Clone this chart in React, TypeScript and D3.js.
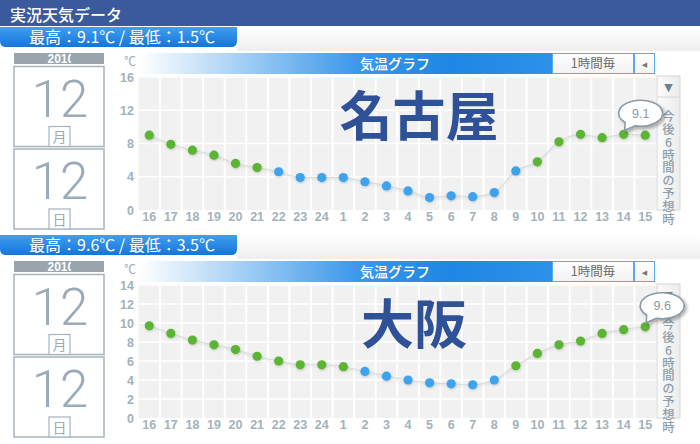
import React from "react";
import * as d3 from "d3";

const HOURS = ["16","17","18","19","20","21","22","23","24","1","2","3","4","5","6","7","8","9","10","11","12","13","14","15"];
const NAGOYA_TEMPS = [9.0,7.9,7.2,6.6,5.6,5.1,4.6,3.9,3.9,3.9,3.4,2.9,2.3,1.5,1.7,1.6,2.1,4.7,5.8,8.2,9.1,8.7,9.1,9.0];
const OSAKA_TEMPS = [9.7,8.9,8.2,7.7,7.2,6.5,6.0,5.6,5.6,5.4,4.9,4.4,4.0,3.7,3.6,3.5,4.0,5.5,6.8,7.7,8.1,8.9,9.3,9.6];
const NAGOYA_TICKS = [0,4,8,12,16];
const OSAKA_TICKS = [0,2,4,6,8,10,12,14];
const SIDE_TEXT = "今後6時間の予想時";

const JP = "'Noto Sans CJK JP', sans-serif";
const NUM = "'Liberation Sans', Arial, sans-serif";
const GRAYTXT = "#9aaab8";

type PanelProps = {
  dy: number; city: string; cityX: number; temps: number[]; ticks: number[];
  hi: string; lo: string; bubbleIdx: number; bubbleText: string; id: string;
};

function Bubble({ px, py, text }: { px: number; py: number; text: string }) {
  const cx = px + 17, cy = py - 21, rx = 22, ry = 13;
  const a1 = (105 * Math.PI) / 180, a2 = (135 * Math.PI) / 180;
  const A = [cx + rx * Math.cos(a1), cy + ry * Math.sin(a1)];
  const B = [cx + rx * Math.cos(a2), cy + ry * Math.sin(a2)];
  const tip = [px + 1, py - 4];
  const d = `M${A[0]},${A[1]} L${tip[0]},${tip[1]} L${B[0]},${B[1]} A${rx},${ry} 0 1 1 ${A[0]},${A[1]} Z`;
  return (
    <g>
      <path d={d} fill="#fff" stroke="#8c9aa6" strokeWidth={1.6} filter="url(#bshadow)" />
      <text x={cx} y={cy + 4.5} textAnchor="middle" fontFamily={NUM} fontSize={12.5} fill="#8a98a5">{text}</text>
    </g>
  );
}

function Panel(p: PanelProps) {
  const { dy } = p;
  const yMax = p.ticks[p.ticks.length - 1];
  const x = d3.scaleBand<string>().domain(HOURS).range([138.5, 656]).padding(0);
  const y = d3.scaleLinear().domain([0, yMax]).range([210 + dy, 77 + dy]);
  const bw = x.bandwidth();
  const cxOf = (h: string) => (x(h) as number) + bw / 2;
  const line = d3.line<number>().x((_, i) => cxOf(HOURS[i])).y((v) => y(v)).curve(d3.curveMonotoneX);
  const tabText = `最高：${p.hi}℃ / 最低：${p.lo}℃`;
  const calBox = (top: number, label: string) => (
    <g>
      <rect x={14} y={top} width={90} height={80} fill="#fff" stroke="#a7b4c0" strokeWidth={1.5} />
      <text x={60} y={top + 50} textAnchor="middle" fontFamily="Roboto, 'Liberation Sans', sans-serif" fontWeight={300} fontSize={51} fill={GRAYTXT}>12</text>
      <rect x={49} y={top + 60} width={21} height={20} fill="#fff" stroke="#a7b4c0" strokeWidth={1.2} />
      <text x={59.5} y={top + 75.5} textAnchor="middle" fontFamily={JP} fontSize={14} fill={GRAYTXT}>{label}</text>
    </g>
  );
  return (
    <g>
      {/* top strip */}
      <rect x={237} y={27 + dy} width={463} height={24} fill="url(#strip)" />
      <path d={`M0,${27 + dy} H237 V${41 + dy} Q237,${47 + dy} 231,${47 + dy} H6 Q0,${47 + dy} 0,${41 + dy} Z`} fill="url(#tab)" />
      <text x={122} y={43 + dy} textAnchor="middle" fontFamily={JP} fontSize={16} fill="#fff">{tabText}</text>

      {/* calendar */}
      <rect x={14} y={53 + dy} width={90} height={11} fill="#9aa5ae" />
      <clipPath id={`yc${p.id}`}><rect x={14} y={53 + dy} width={57} height={11} /></clipPath>
      <g clipPath={`url(#yc${p.id})`}>
        <text x={47.5} y={63 + dy} fontFamily={NUM} fontWeight="bold" fontSize={12} fill="#fff">2010</text>
      </g>
      {calBox(66.5 + dy, "月")}
      {calBox(149 + dy, "日")}

      {/* chart header */}
      <rect x={140} y={53 + dy} width={515} height={21} fill="url(#hdr)" />
      <text x={360} y={68.5 + dy} fontFamily={JP} fontSize={14} fill="#fff" fontWeight={500}>気温グラフ</text>
      <rect x={552.5} y={53.5 + dy} width={81} height={20} fill="url(#wbox)" stroke="#58aaf0" strokeWidth={1} />
      <text x={593} y={68 + dy} textAnchor="middle" fontFamily={JP} fontSize={12.5} fill="#6a6a6a">1時間毎</text>
      <rect x={634.5} y={53.5 + dy} width={20} height={20} fill="url(#wbox)" stroke="#58aaf0" strokeWidth={1} />
      <text x={644.5} y={66.5 + dy} textAnchor="middle" fontFamily="'DejaVu Sans'" fontSize={7} fill="#777">◀</text>
      <text x={130} y={66 + dy} textAnchor="middle" fontFamily={JP} fontSize={12} fill={GRAYTXT}>℃</text>

      {/* plot */}
      <rect x={138.5} y={76 + dy} width={517.5} height={134} fill="#f1f1f1" />
      {p.ticks.slice(1).map((t) => (
        <line key={`h${t}`} x1={138.5} x2={656} y1={y(t)} y2={y(t)} stroke="#fff" strokeWidth={1.5} />
      ))}
      {HOURS.slice(1).map((h) => (
        <line key={`v${h}`} x1={x(h) as number} x2={x(h) as number} y1={76 + dy} y2={210 + dy} stroke="#fff" strokeWidth={2} />
      ))}
      {p.ticks.map((t) => (
        <text key={`t${t}`} x={134} y={y(t) + 4.5} textAnchor="end" fontFamily={NUM} fontWeight="bold" fontSize={12.5} fill="#a3b1bd">{t}</text>
      ))}
      {HOURS.map((h) => (
        <text key={`x${h}`} x={cxOf(h)} y={221 + dy} textAnchor="middle" fontFamily={NUM} fontWeight="bold" fontSize={12.5} fill="#a3b1bd">{h}</text>
      ))}

      {/* city name */}
      <text x={p.cityX} y={136 + dy} textAnchor="middle" fontFamily={JP} fontWeight="bold" fontSize={53} fill="#2f5198">{p.city}</text>

      {/* side panel */}
      <rect x={657} y={76 + dy} width={23} height={134} fill="url(#side)" stroke="#d6d6d6" strokeWidth={1} />
      <line x1={657} x2={680} y1={97 + dy} y2={97 + dy} stroke="#d6d6d6" strokeWidth={1} />
      <text x={668.5} y={91 + dy} textAnchor="middle" fontFamily="'DejaVu Sans'" fontSize={11} fill="#6b7f92">▼</text>
      <text x={668.5} y={110 + dy} fontFamily={JP} fontSize={12.3} fontWeight={500} fill="#8e9dab"
        letterSpacing={0.6}
        style={{ writingMode: "vertical-rl", textOrientation: "upright" } as React.CSSProperties}>{SIDE_TEXT}</text>

      {/* line and dots */}
      <path d={line(p.temps) || ""} fill="none" stroke="#dadada" strokeWidth={1.1} filter="url(#lshadow)" />
      {p.temps.map((v, i) => (
        <circle key={`c${i}`} cx={cxOf(HOURS[i])} cy={y(v)} r={4.6} fill={v >= 5 ? "#5cb531" : "#3ea3ec"} filter="url(#dshadow)" />
      ))}
      <Bubble px={cxOf(HOURS[p.bubbleIdx])} py={y(p.temps[p.bubbleIdx])} text={p.bubbleText} />
    </g>
  );
}

export default function App() {
  return (
    <svg width={700} height={444} style={{ position: "absolute", left: 0, top: 0, background: "#fff" }}>
      <defs>
        <linearGradient id="tab" x1="0" y1="0" x2="0" y2="1">
          <stop offset="0" stopColor="#3f9ff2" />
          <stop offset="1" stopColor="#1475da" />
        </linearGradient>
        <linearGradient id="strip" x1="0" y1="0" x2="0" y2="1">
          <stop offset="0" stopColor="#ffffff" />
          <stop offset="1" stopColor="#eeeeee" />
        </linearGradient>
        <linearGradient id="hdr" x1="0" y1="0" x2="1" y2="0">
          <stop offset="0" stopColor="#ffffff" />
          <stop offset="0.42" stopColor="#3d98ea" />
          <stop offset="0.6" stopColor="#1f86e4" />
          <stop offset="1" stopColor="#3a9cef" />
        </linearGradient>
        <linearGradient id="wbox" x1="0" y1="0" x2="0" y2="1">
          <stop offset="0" stopColor="#ffffff" />
          <stop offset="1" stopColor="#f2f2f2" />
        </linearGradient>
        <linearGradient id="side" x1="0" y1="0" x2="1" y2="0">
          <stop offset="0" stopColor="#fbfbfb" />
          <stop offset="1" stopColor="#ececec" />
        </linearGradient>
        <filter id="bshadow" x="-30%" y="-30%" width="160%" height="170%">
          <feDropShadow dx={2} dy={2} stdDeviation={1.5} floodColor="#000" floodOpacity={0.3} />
        </filter>
        <filter id="dshadow" x="-50%" y="-50%" width="200%" height="200%">
          <feDropShadow dx={0.5} dy={1} stdDeviation={0.8} floodColor="#000" floodOpacity={0.2} />
        </filter>
        <filter id="lshadow" x="-5%" y="-20%" width="110%" height="140%">
          <feDropShadow dx={0} dy={1} stdDeviation={0.8} floodColor="#000" floodOpacity={0.12} />
        </filter>
      </defs>
      <rect x={0} y={0} width={700} height={26} fill="#3b5a9b" />
      <text x={10} y={20.5} fontFamily={JP} fontSize={16} fill="#fff" fontWeight={500}>実況天気データ</text>
      <Panel id="n" dy={0} city="名古屋" cityX={419} temps={NAGOYA_TEMPS} ticks={NAGOYA_TICKS} hi="9.1" lo="1.5" bubbleIdx={22} bubbleText="9.1" />
      <Panel id="o" dy={208} city="大阪" cityX={414} temps={OSAKA_TEMPS} ticks={OSAKA_TICKS} hi="9.6" lo="3.5" bubbleIdx={23} bubbleText="9.6" />
    </svg>
  );
}
